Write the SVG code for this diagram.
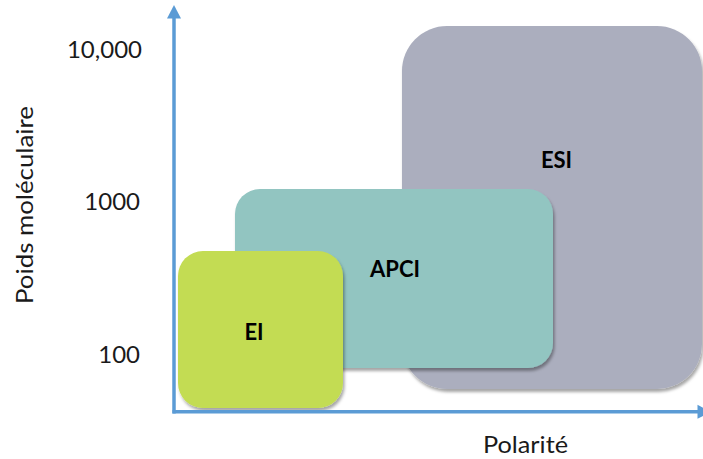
<svg xmlns="http://www.w3.org/2000/svg" width="703" height="459" viewBox="0 0 703 459">
  <style>
    .lbl { font-family: Lato, "Liberation Sans", sans-serif; font-size: 24px; fill: #1a1a1a; }
    .tick { text-anchor: end; }
    .box-lbl { font-family: Lato, "Liberation Sans", sans-serif; font-size: 22px; font-weight: bold; fill: #000; text-anchor: middle; }
    .axis { stroke: #5b9bd5; stroke-width: 3.5; fill: none; }
    .head { fill: #5b9bd5; }
  </style>
  <defs>
    <filter id="sh" x="-10%" y="-10%" width="125%" height="125%">
      <feDropShadow dx="1.5" dy="3" stdDeviation="1.8" flood-color="#000" flood-opacity="0.35"/>
    </filter>
  </defs>
  <rect width="703" height="459" fill="#fff"/>

  <g id="ESI">
    <rect x="402" y="26" width="300" height="363" rx="45" ry="45" fill="#abaebe" filter="url(#sh)"/>
    <text class="box-lbl" x="556.5" y="168">ESI</text>
  </g>
  <g id="APCI">
    <rect x="235" y="189" width="318" height="179" rx="25" ry="25" fill="#92c5c1" filter="url(#sh)"/>
    <text class="box-lbl" x="395" y="277">APCI</text>
  </g>
  <g id="EI">
    <rect x="178" y="251" width="165" height="157" rx="25" ry="25" fill="#c3dc52" filter="url(#sh)"/>
    <text class="box-lbl" x="254" y="340">EI</text>
  </g>

  <g id="axes">
    <line class="axis" x1="174" y1="16" x2="174" y2="413.5"/>
    <polygon class="head" points="174,5 167,18.5 181,18.5"/>
    <line class="axis" x1="172.5" y1="411.8" x2="699" y2="411.8"/>
    <polygon class="head" points="711,411.8 697.5,404.8 697.5,418.8"/>
  </g>

  <g id="labels">
    <text class="lbl tick" x="142" y="58">10,000</text>
    <text class="lbl tick" x="140" y="210">1000</text>
    <text class="lbl tick" x="140" y="363">100</text>
    <text class="lbl" x="483" y="453" textLength="85" lengthAdjust="spacingAndGlyphs">Polarité</text>
    <text class="lbl" transform="translate(33,304) rotate(-90)" textLength="198" lengthAdjust="spacingAndGlyphs">Poids moléculaire</text>
  </g>
</svg>
